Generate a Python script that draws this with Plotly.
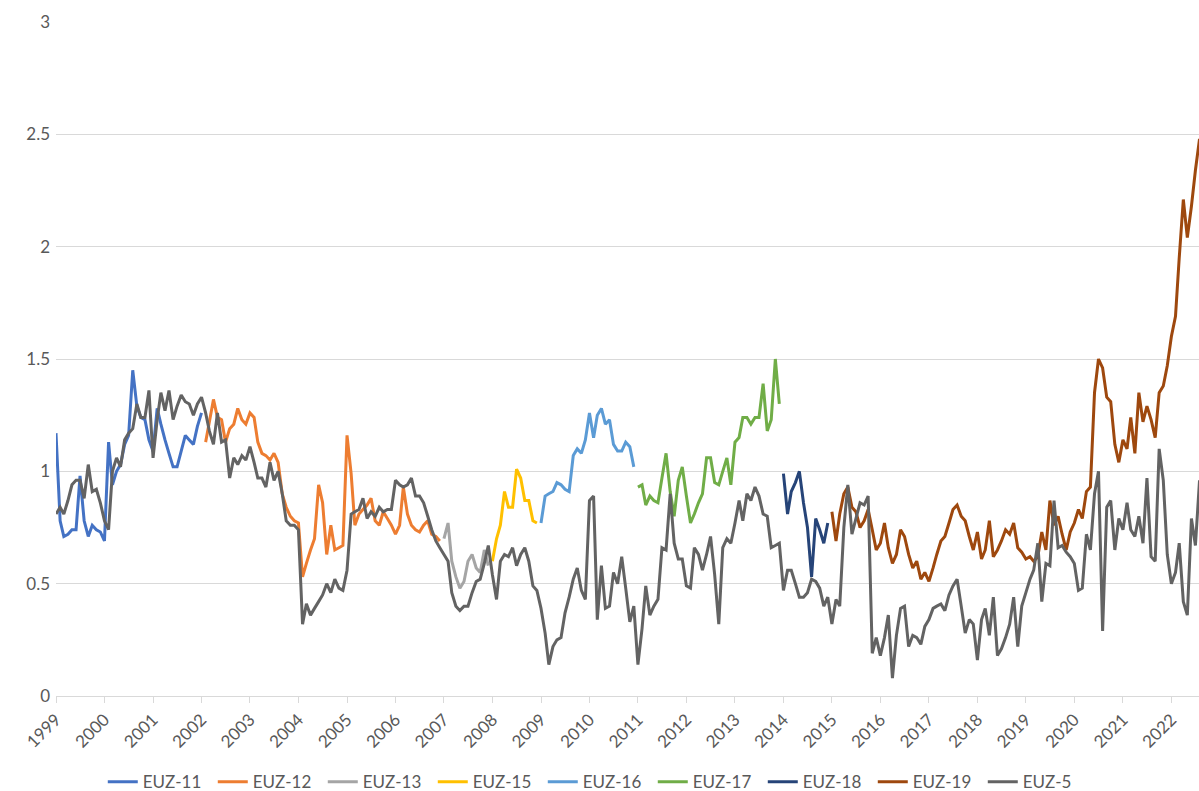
import pandas as pd
import plotly.graph_objects as go

# monthly dates, Jan 1999 onwards
months = pd.date_range("1999-01-01", periods=285, freq="MS")

euz11_start = 0
euz11 = [1.17, 0.78, 0.71, 0.72, 0.74, 0.74, 0.98, 0.78, 0.71, 0.76, 0.74, 0.73,
         0.69, 1.13, 0.94, 1.00, 1.03, 1.12, 1.16, 1.45, 1.29, 1.24, 1.23, 1.14,
         1.09, 1.28, 1.21, 1.14, 1.08, 1.02, 1.02, 1.09, 1.16, 1.14, 1.12, 1.20,
         1.26]

euz12_start = 37
euz12 = [1.13, 1.22, 1.32, 1.24, 1.23, 1.13, 1.19, 1.21, 1.28, 1.23, 1.21,
         1.26, 1.24, 1.13, 1.08, 1.07, 1.05, 1.08, 1.04, 0.90, 0.84, 0.80, 0.78,
         0.77, 0.53, 0.59, 0.65, 0.70, 0.94, 0.86, 0.63, 0.76, 0.65, 0.66, 0.67,
         1.16, 0.99, 0.76, 0.81, 0.83, 0.85, 0.88, 0.78, 0.76, 0.82, 0.79, 0.76,
         0.72, 0.76, 0.93, 0.81, 0.76, 0.74, 0.73, 0.76, 0.78, 0.72, 0.71, 0.69]

euz13_start = 96
euz13 = [0.70, 0.77, 0.60, 0.53, 0.48, 0.51, 0.60, 0.63, 0.57, 0.55, 0.65, 0.58]

euz15_start = 108
euz15 = [0.60, 0.70, 0.76, 0.91, 0.84, 0.84, 1.01, 0.97, 0.87, 0.87, 0.78, 0.77]

euz16_start = 120
euz16 = [0.77, 0.89, 0.90, 0.91, 0.95, 0.94, 0.92, 0.91, 1.07, 1.10, 1.08, 1.14,
         1.26, 1.15, 1.25, 1.28, 1.21, 1.23, 1.12, 1.09, 1.09, 1.13, 1.11, 1.02]

euz17_start = 144
euz17 = [0.93, 0.94, 0.85, 0.89, 0.87, 0.86, 0.97, 1.08, 0.91, 0.80, 0.96, 1.02,
         0.89, 0.77, 0.81, 0.86, 0.90, 1.06, 1.06, 0.95, 0.94, 1.00, 1.06, 0.94,
         1.13, 1.15, 1.24, 1.24, 1.21, 1.24, 1.24, 1.39, 1.18, 1.23, 1.50, 1.30]

euz18_start = 180
euz18 = [0.99, 0.81, 0.91, 0.95, 1.00, 0.86, 0.75, 0.53, 0.79, 0.74, 0.68, 0.77]

euz19_start = 192
euz19 = [0.82, 0.69, 0.81, 0.90, 0.93, 0.84, 0.82, 0.75, 0.78, 0.83, 0.74, 0.65,
         0.68, 0.77, 0.66, 0.59, 0.63, 0.74, 0.71, 0.63, 0.57, 0.60, 0.52, 0.55,
         0.51, 0.57, 0.63, 0.69, 0.71, 0.77, 0.83, 0.85, 0.80, 0.78, 0.71, 0.65,
         0.73, 0.61, 0.65, 0.78, 0.62, 0.65, 0.69, 0.74, 0.72, 0.77, 0.66, 0.64,
         0.61, 0.62, 0.60, 0.62, 0.73, 0.65, 0.87, 0.76, 0.80, 0.72, 0.65, 0.73,
         0.77, 0.83, 0.79, 0.91, 0.93, 1.35, 1.50, 1.46, 1.33, 1.31, 1.12, 1.04,
         1.14, 1.10, 1.24, 1.08, 1.35, 1.22, 1.29, 1.23, 1.15, 1.35, 1.38, 1.47,
         1.60, 1.69, 1.95, 2.21, 2.04, 2.18, 2.34, 2.48]

euz5_start = 0
euz5 = [
    0.81, 0.84, 0.81, 0.87, 0.94, 0.96, 0.96, 0.88, 1.03, 0.91, 0.92, 0.86,
    0.78, 0.74, 1.00, 1.06, 1.02, 1.14, 1.17, 1.19, 1.30, 1.24, 1.24, 1.36,
    1.06, 1.23, 1.35, 1.27, 1.36, 1.23, 1.29, 1.34, 1.31, 1.30, 1.25, 1.30,
    1.33, 1.26, 1.18, 1.12, 1.26, 1.13, 1.14, 0.97, 1.06, 1.03, 1.07, 1.05,
    1.11, 1.04, 0.97, 0.97, 0.93, 1.04, 0.96, 1.00, 0.90, 0.78, 0.76, 0.76,
    0.74, 0.32, 0.41, 0.36, 0.39, 0.42, 0.45, 0.50, 0.46, 0.52, 0.48, 0.47,
    0.56, 0.81, 0.82, 0.83, 0.88, 0.79, 0.82, 0.80, 0.84, 0.82, 0.83, 0.83,
    0.96, 0.94, 0.93, 0.94, 0.97, 0.89, 0.89, 0.86, 0.80, 0.74, 0.69, 0.66,
    0.63, 0.60, 0.46, 0.40, 0.38, 0.40, 0.40, 0.46, 0.51, 0.52, 0.59, 0.67,
    0.54, 0.43, 0.60, 0.63, 0.62, 0.66, 0.58, 0.63, 0.66, 0.60, 0.49, 0.47,
    0.39, 0.28, 0.14, 0.22, 0.25, 0.26, 0.37, 0.44, 0.52, 0.57, 0.47, 0.43,
    0.87, 0.89, 0.34, 0.58, 0.39, 0.40, 0.55, 0.50, 0.62, 0.48, 0.33, 0.40,
    0.14, 0.30, 0.49, 0.36, 0.40, 0.43, 0.66, 0.65, 0.90, 0.68, 0.61, 0.61,
    0.49, 0.48, 0.66, 0.63, 0.56, 0.63, 0.71, 0.54, 0.32, 0.66, 0.70, 0.68,
    0.77, 0.87, 0.78, 0.90, 0.87, 0.93, 0.89, 0.81, 0.80, 0.66, 0.67, 0.68,
    0.47, 0.56, 0.56, 0.50, 0.44, 0.44, 0.46, 0.52, 0.51, 0.48, 0.40, 0.44,
    0.32, 0.43, 0.40, 0.75, 0.94, 0.72, 0.79, 0.86, 0.85, 0.89, 0.19, 0.26,
    0.18, 0.26, 0.36, 0.08, 0.27, 0.39, 0.40, 0.22, 0.27, 0.26, 0.23, 0.31,
    0.34, 0.39, 0.40, 0.41, 0.38, 0.45, 0.49, 0.52, 0.40, 0.28, 0.34, 0.32,
    0.16, 0.34, 0.39, 0.27, 0.44, 0.18, 0.21, 0.26, 0.32, 0.44, 0.22, 0.40,
    0.46, 0.52, 0.56, 0.68, 0.42, 0.59, 0.58, 0.87, 0.66, 0.67, 0.64, 0.62,
    0.59, 0.47, 0.48, 0.72, 0.65, 0.90, 1.00, 0.29, 0.84, 0.87, 0.65, 0.79,
    0.74, 0.86, 0.74, 0.71, 0.80, 0.68, 0.97, 0.62, 0.60, 1.10, 0.96, 0.63,
    0.50, 0.55, 0.68, 0.42, 0.36, 0.79, 0.67, 0.96,
]

series = [
    ("EUZ-11", euz11_start, euz11, "#4472C4"),
    ("EUZ-12", euz12_start, euz12, "#ED7D31"),
    ("EUZ-13", euz13_start, euz13, "#A5A5A5"),
    ("EUZ-15", euz15_start, euz15, "#FFC000"),
    ("EUZ-16", euz16_start, euz16, "#5B9BD5"),
    ("EUZ-17", euz17_start, euz17, "#70AD47"),
    ("EUZ-18", euz18_start, euz18, "#264478"),
    ("EUZ-19", euz19_start, euz19, "#9E480E"),
    ("EUZ-5", euz5_start, euz5, "#636363"),
]

FONT = "Lato, Calibri, 'Open Sans', sans-serif"
GRID = "#D9D9D9"
TEXT = "#595959"

fig = go.Figure()
for name, start, values, color in series:
    fig.add_trace(
        go.Scatter(
            x=months[start:start + len(values)],
            y=values,
            mode="lines",
            name=name,
            line=dict(color=color, width=3, simplify=False),
        )
    )

fig.update_layout(
    width=1199,
    height=791,
    margin=dict(l=56, r=0, t=22, b=95, autoexpand=False),
    paper_bgcolor="white",
    plot_bgcolor="white",
    font=dict(family=FONT, size=17, color=TEXT),
    showlegend=True,
    legend=dict(
        orientation="h",
        x=0.474,
        xanchor="center",
        y=-0.128,
        yanchor="middle",
        entrywidth=65,
        font=dict(size=17, color=TEXT),
        itemwidth=30,
    ),
)
fig.update_xaxes(
    type="date",
    range=["1999-01-01", "2022-07-28"],
    tick0="1999-01-01",
    dtick="M12",
    tickformat="%Y",
    tickangle=-45,
    showgrid=False,
    showline=True,
    linecolor=GRID,
    linewidth=1,
    ticks="outside",
    ticklen=6,
    tickcolor=GRID,
    tickfont=dict(size=17, color=TEXT),
    zeroline=False,
    automargin=False,
)
fig.update_yaxes(
    range=[0, 3],
    dtick=0.5,
    showgrid=True,
    gridcolor=GRID,
    gridwidth=1,
    zeroline=False,
    showline=False,
    ticks="",
    ticklen=0,
    ticklabelstandoff=5,
    tickfont=dict(size=17, color=TEXT),
    automargin=False,
)

# drop the default page margin so the figure sits at the window corner
fig.write_html(
    "out.html",
    config={"displayModeBar": False},
    post_script="document.body.style.margin='0';",
)
